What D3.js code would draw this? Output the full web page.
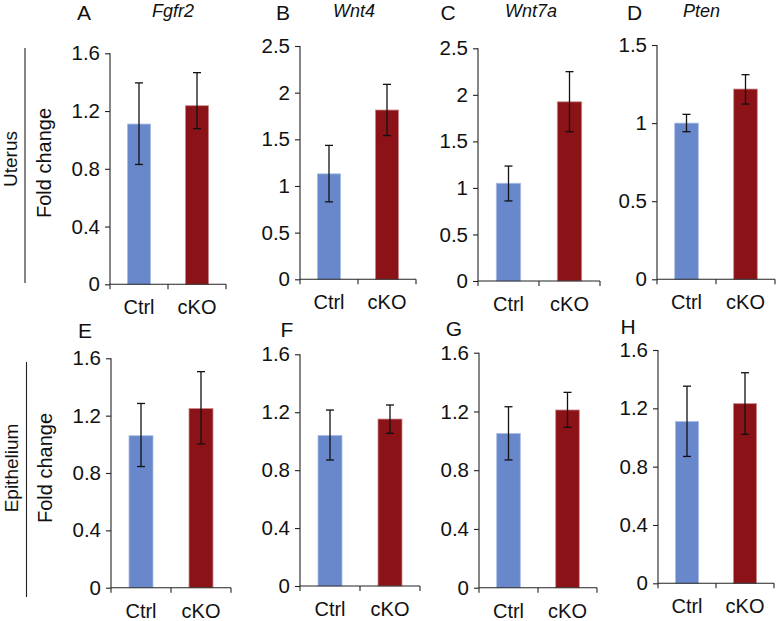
<!DOCTYPE html>
<html>
<head>
<meta charset="utf-8">
<script src="https://cdn.jsdelivr.net/npm/d3@7"></script>
<style>
  html, body { margin: 0; padding: 0; background: #fff; }
  svg { display: block; font-family: Arial, "Liberation Sans", sans-serif; }
</style>
</head>
<body>
<svg id="chart" width="776" height="621"></svg>
<script>
// ---------------- DATA ----------------
const panelLetters = ["A", "B", "C", "D", "E", "F", "G", "H"];
const geneNames = ["Fgfr2", "Wnt4", "Wnt7a", "Pten", "", "", "", ""];
const categories = ["Ctrl", "cKO"];
const rowLabels = ["Uterus", "Epithelium"];
const yAxisTitle = "Fold change";

const ctrlValues = [1.11, 1.13, 1.05, 1.00, 1.06, 1.04, 1.05, 1.11];
const ctrlErrLow = [0.83, 0.83, 0.86, 0.945, 0.845, 0.87, 0.87, 0.87];
const ctrlErrHigh = [1.395, 1.435, 1.235, 1.056, 1.285, 1.215, 1.232, 1.352];

const ckoValues = [1.237, 1.814, 1.925, 1.218, 1.25, 1.153, 1.21, 1.232];
const ckoErrLow = [1.078, 1.54, 1.604, 1.122, 1.003, 1.054, 1.092, 1.022];
const ckoErrHigh = [1.466, 2.089, 2.249, 1.31, 1.507, 1.25, 1.33, 1.444];

const yMaxValues = [1.6, 2.5, 2.5, 1.5, 1.6, 1.6, 1.6, 1.6];
const yTickValues = [
  [0, 0.4, 0.8, 1.2, 1.6],
  [0, 0.5, 1, 1.5, 2, 2.5],
  [0, 0.5, 1, 1.5, 2, 2.5],
  [0, 0.5, 1, 1.5],
  [0, 0.4, 0.8, 1.2, 1.6],
  [0, 0.4, 0.8, 1.2, 1.6],
  [0, 0.4, 0.8, 1.2, 1.6],
  [0, 0.4, 0.8, 1.2, 1.6]
];

// ---------------- LAYOUT ----------------
const layout = [
  { x0: 110, x1: 226, yTop: 53.3, yBot: 284.3, letterX: 84, letterY: 19.5, geneX: 152, geneY: 17 },
  { x0: 300, x1: 416, yTop: 46, yBot: 279.3, letterX: 283, letterY: 19.5, geneX: 333, geneY: 17 },
  { x0: 478, x1: 600, yTop: 48.3, yBot: 281, letterX: 448, letterY: 19.5, geneX: 505, geneY: 17 },
  { x0: 657, x1: 775, yTop: 45, yBot: 279.3, letterX: 634.5, letterY: 19.5, geneX: 683, geneY: 17 },
  { x0: 111, x1: 231, yTop: 358.3, yBot: 587.7, letterX: 85, letterY: 338 },
  { x0: 300, x1: 420, yTop: 354.3, yBot: 586, letterX: 287, letterY: 337 },
  { x0: 479, x1: 597, yTop: 352.7, yBot: 587.7, letterX: 454, letterY: 336 },
  { x0: 658, x1: 774, yTop: 350, yBot: 583.3, letterX: 628, letterY: 334 }
];

const blue = "#6888cb";
const red = "#8b1217";
const axisColor = "#222";
const textColor = "#111";
const FONT = "Arial, 'Liberation Sans', sans-serif";

const svg = d3.select("#chart");

panelLetters.forEach((letter, i) => {
  const L = layout[i];
  const g = svg.append("g");

  const x = d3.scaleBand().domain(categories).range([L.x0, L.x1])
    .paddingInner(0.6).paddingOuter(0.3);
  const y = d3.scaleLinear().domain([0, yMaxValues[i]]).range([L.yBot, L.yTop]);

  const rows = [
    { cat: categories[0], v: ctrlValues[i], lo: ctrlErrLow[i], hi: ctrlErrHigh[i], c: blue, edge: "#a9bde6" },
    { cat: categories[1], v: ckoValues[i], lo: ckoErrLow[i], hi: ckoErrHigh[i], c: red, edge: "#c98a8d" }
  ];

  // bars
  g.selectAll("rect.bar").data(rows).enter().append("rect")
    .attr("class", "bar")
    .attr("x", d => x(d.cat))
    .attr("width", x.bandwidth())
    .attr("y", d => y(d.v))
    .attr("height", d => y(0) - y(d.v))
    .attr("fill", d => d.c)
    .attr("stroke", d => d.edge)
    .attr("stroke-width", 0.8);

  // error bars
  const cap = 4;
  rows.forEach(d => {
    const cx = x(d.cat) + x.bandwidth() / 2;
    g.append("line").attr("x1", cx).attr("x2", cx)
      .attr("y1", y(d.lo)).attr("y2", y(d.hi))
      .attr("stroke", "#111").attr("stroke-width", 1.3);
    [d.lo, d.hi].forEach(e => {
      g.append("line").attr("x1", cx - cap).attr("x2", cx + cap)
        .attr("y1", y(e)).attr("y2", y(e))
        .attr("stroke", "#111").attr("stroke-width", 1.3);
    });
  });

  // y axis
  const yAxis = d3.axisLeft(y).tickValues(yTickValues[i]).tickSize(5).tickPadding(5)
    .tickFormat(d => String(+d.toFixed(2)));
  const ya = g.append("g").attr("transform", `translate(${L.x0},0)`).call(yAxis);
  ya.select(".domain").attr("stroke", axisColor).attr("stroke-width", 1.1).attr("d", `M0,${L.yTop}V${L.yBot}`);
  ya.selectAll(".tick line").attr("stroke", axisColor).attr("stroke-width", 1.1);
  ya.selectAll(".tick text").attr("fill", textColor).style("font-size", "20.5px")
    .style("font-family", FONT);

  // x axis
  const xAxis = d3.axisBottom(x).tickSize(0).tickPadding(16);
  const xa = g.append("g").attr("transform", `translate(0,${L.yBot})`).call(xAxis);
  xa.select(".domain").attr("stroke", axisColor).attr("stroke-width", 1.1).attr("d", `M${L.x0},0H${L.x1}`);
  xa.selectAll(".tick text").attr("fill", textColor).style("font-size", "20px")
    .style("font-family", FONT);
  const mid = (x(categories[0]) + x.bandwidth() + x(categories[1])) / 2;
  [L.x0, mid, L.x1].forEach(t => {
    xa.append("line").attr("x1", t).attr("x2", t).attr("y1", 0).attr("y2", 5)
      .attr("stroke", axisColor).attr("stroke-width", 1.1);
  });

  // panel letter
  svg.append("text").attr("x", L.letterX).attr("y", L.letterY)
    .attr("text-anchor", "middle").attr("fill", textColor)
    .style("font-size", "21px").text(letter);

  if (geneNames[i]) {
    svg.append("text").attr("x", L.geneX).attr("y", L.geneY)
      .attr("fill", textColor).style("font-size", "18px").style("font-style", "italic")
      .text(geneNames[i]);
  }
});

// Y axis titles and row labels
const rowGeom = [
  { titleX: 51, titleY: 163, labelX: 17, labelY: 159, lineX: 25, lineY0: 48, lineY1: 283 },
  { titleX: 52, titleY: 468, labelX: 17.5, labelY: 468, lineX: 26.5, lineY0: 362, lineY1: 597 }
];
rowLabels.forEach((lab, r) => {
  const G = rowGeom[r];
  svg.append("text")
    .attr("transform", `translate(${G.titleX},${G.titleY}) rotate(-90)`)
    .attr("text-anchor", "middle").attr("fill", textColor)
    .style("font-size", "20px").text(yAxisTitle);
  svg.append("text")
    .attr("transform", `translate(${G.labelX},${G.labelY}) rotate(-90)`)
    .attr("text-anchor", "middle").attr("fill", textColor)
    .style("font-size", "19px").text(lab);
  svg.append("line").attr("x1", G.lineX).attr("x2", G.lineX)
    .attr("y1", G.lineY0).attr("y2", G.lineY1)
    .attr("stroke", axisColor).attr("stroke-width", 1.1);
});
</script>
</body>
</html>
